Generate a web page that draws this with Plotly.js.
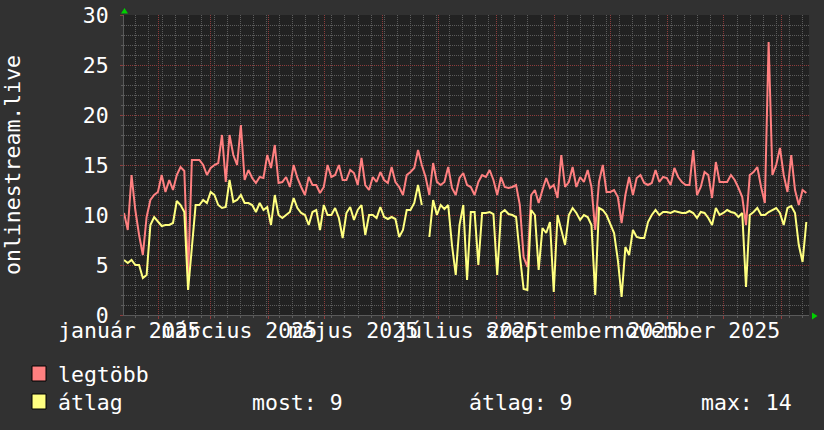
<!DOCTYPE html>
<html>
<head>
<meta charset="utf-8">
<script src="https://cdn.plot.ly/plotly-3.0.1.min.js"></script>
<style>
html,body{margin:0;padding:0;background:#313131;}
#chart{width:824px;height:430px;}
</style>
</head>
<body>
<div id="chart"></div>
<script>
// ---- data ----
const seriesNames = ['legtöbb', 'átlag'];
const seriesColors = ['#ff8080', '#ffff80'];

// "legtöbb" (maximum) series, one reading every ~2 days
const maxValues = [
 10.2, 8.5, 14.0, 10.5, 8.0, 6.0, 9.8, 11.5, 12.0, 12.3,
 14.0, 12.3, 13.5, 12.5, 14.0, 14.8, 14.4, 3.8, 15.5, 15.5,
 15.5, 15.0, 14.0, 14.7, 15.0, 15.2, 18.0, 13.3, 18.0, 16.0,
 15.0, 19.0, 13.5, 14.5, 13.7, 13.2, 13.8, 13.7, 16.0, 14.7,
 17.0, 13.2, 13.3, 13.8, 12.8, 15.0, 13.7, 12.8, 12.0, 13.8,
 13.0, 13.0, 12.2, 12.8, 15.0, 13.8, 14.0, 15.0, 13.5, 13.5,
 14.5, 14.2, 13.0, 15.7, 13.0, 12.5, 13.8, 13.3, 14.3, 13.5,
 13.2, 14.8, 13.3, 12.8, 12.0, 14.0, 14.3, 14.7, 16.5, 15.0,
 13.8, 12.0, 15.2, 13.3, 13.0, 13.3, 14.8, 12.7, 12.0, 13.7,
 14.2, 13.0, 12.8, 12.0, 13.3, 14.0, 13.8, 14.5, 13.5, 12.0,
 13.8, 12.8, 12.7, 12.8, 13.0, 11.0, 5.8, 4.8, 12.0, 12.5,
 11.2, 12.5, 13.7, 12.7, 13.0, 11.7, 16.0, 12.8, 13.3, 14.8,
 12.8, 13.8, 13.3, 14.5, 12.8, 8.5, 13.3, 15.0, 12.3, 12.3,
 12.5, 11.8, 9.2, 12.0, 13.8, 12.0, 13.7, 14.0, 13.2, 13.0,
 13.2, 14.5, 13.3, 13.8, 13.7, 13.0, 14.7, 13.8, 13.3, 13.0,
 13.0, 16.5, 12.0, 12.8, 14.3, 14.0, 11.7, 15.3, 13.3, 13.3,
 13.3, 14.0, 13.5, 12.7, 11.8, 9.0, 14.0, 14.3, 14.8, 12.8,
 11.2, 27.3, 14.0, 15.0, 16.7, 14.0, 12.3, 16.0, 12.5, 11.0,
 12.5, 12.2
];

// "átlag" (average) series, same readings
const avgValues = [
 5.5, 5.2, 5.5, 5.0, 5.0, 3.7, 4.0, 9.0, 9.8, 9.3,
 8.9, 9.0, 9.0, 9.2, 11.4, 11.0, 10.3, 2.5, 7.0, 11.0,
 11.0, 11.5, 11.2, 12.3, 12.0, 11.0, 10.7, 10.8, 13.5, 11.3,
 11.5, 12.0, 11.2, 11.2, 11.0, 10.3, 11.2, 10.5, 10.8, 9.0,
 12.0, 10.0, 9.7, 10.0, 10.3, 11.7, 10.7, 10.2, 10.0, 9.0,
 10.3, 10.5, 8.5, 11.0, 10.0, 10.0, 10.7, 9.7, 7.7, 10.2,
 10.8, 9.5, 10.5, 11.0, 8.0, 10.0, 10.0, 9.7, 10.8, 9.8,
 9.6, 9.8, 9.6, 7.8, 8.5, 10.5, 10.5, 11.2, 13.0, 11.0,
 null, 7.8, 11.5, 10.0, 11.0, 10.6, 11.0, 7.0, 4.0, 9.0,
 11.0, 3.5, 10.3, 10.3, 5.0, 10.2, 10.2, 10.3, 10.1, 4.0,
 10.2, 10.5, 10.1, 10.0, 9.8, 6.0, 2.6, 2.5, 10.5, 10.0,
 4.5, 8.7, 8.2, 9.3, 2.3, 10.0, 8.5, 7.0, 10.0, 10.7,
 10.2, 9.5, 10.0, 9.8, 9.0, 2.0, 10.7, 10.5, 10.0, 9.0,
 8.2, 5.5, 1.8, 6.8, 6.0, 8.5, 7.8, 7.7, 7.7, 9.3,
 10.0, 10.5, 10.0, 10.3, 10.3, 10.2, 10.4, 10.3, 10.2, 10.2,
 10.4, 10.2, 9.7, 10.3, 10.2, 9.7, 9.0, 10.7, 10.0, 10.2,
 10.5, 10.3, 10.2, 9.8, 10.2, 2.8, 10.0, 10.3, 10.7, 10.0,
 10.0, 10.3, 10.5, 10.7, 10.2, 9.0, 10.7, 10.9, 10.2, 7.0,
 5.3, 9.3
];

// sampling of the readings (first reading at the left edge of the chart)
const firstSampleUTC = Date.UTC(2025, 0, 13, 15, 20);
const sampleStepHours = 48.46;
const rangeDays = 366.9;

// x-axis labels (centred on the middle of each labelled month)
const monthLabels = ['január 2025', 'március 2025', 'május 2025', 'július 2025', 'szeptember 2025', 'november 2025'];
const monthLabelDates = ['2025-01-16 12:00', '2025-03-16 12:00', '2025-05-16 12:00', '2025-07-16 12:00', '2025-09-16 00:00', '2025-11-16 00:00'];

const yTitle = 'onlinestream.live';
const legendStats = ['most: 9', 'átlag: 9', 'max: 14'];

// ---- build ----
function fmt(ms) { return new Date(ms).toISOString().slice(0, 19).replace('T', ' '); }
const xDates = maxValues.map((_, i) => fmt(firstSampleUTC + i * sampleStepHours * 3600e3));
const rangeStart = fmt(firstSampleUTC);
const rangeEnd = fmt(firstSampleUTC + rangeDays * 864e5);

const MONO = 'DejaVu Sans Mono';
const FS = 21.5;
const W = 824, H = 430;
const M = {l: 124, r: 15, t: 15, b: 115};
const PW = W - M.l - M.r, PH = H - M.t - M.b;
// pixel -> paper helpers for decorations
const px = x => (x - M.l) / PW;
const py = y => (H - M.b - y) / PH;

const gridGray = '#5c5c5c';
const gridRed = '#8e3c3c';

const traces = [
  {x: xDates, y: maxValues, name: seriesNames[0], type: 'scatter', mode: 'lines',
   line: {color: seriesColors[0], width: 2}, connectgaps: false, hoverinfo: 'skip'},
  {x: xDates, y: avgValues, name: seriesNames[1], type: 'scatter', mode: 'lines',
   line: {color: seriesColors[1], width: 2}, connectgaps: false, hoverinfo: 'skip'},
  {x: [monthLabelDates[0]], y: [null], xaxis: 'x2', yaxis: 'y', mode: 'lines',
   showlegend: false, hoverinfo: 'skip'}
];

function sq(x0, y0, x1, y1, color) {
  return {type: 'rect', xref: 'paper', yref: 'paper', x0: px(x0), x1: px(x1), y0: py(y1), y1: py(y0),
          fillcolor: color, line: {color: '#000000', width: 1}};
}
function tri(pts) {
  const p = pts.map((q, i) => (i ? 'L' : 'M') + px(q[0]) + ',' + py(q[1])).join(' ') + ' Z';
  return {type: 'path', xref: 'paper', yref: 'paper', path: p, fillcolor: '#00d000', line: {width: 0}};
}

const shapes = [
  sq(32, 366, 46, 381, seriesColors[0]),
  sq(32, 394, 46, 409, seriesColors[1]),
  tri([[121, 13.5], [128, 13.5], [124.5, 8]]),
  tri([[812, 312.5], [812, 319.5], [817.5, 316]])
];

function txt(t, x, y, anchor, angle) {
  return {text: t, xref: 'paper', yref: 'paper', x: px(x), y: py(y), xanchor: anchor || 'left', yanchor: 'middle',
          showarrow: false, textangle: angle || 0, borderpad: 0,
          font: {family: MONO, size: FS, color: '#ffffff'}};
}
const annotations = [
  txt(yTitle, 12, 165, 'center', -90),
  txt(seriesNames[0], 57, 374),
  txt(seriesNames[1], 57, 402),
  txt(legendStats[0], 251, 402),
  txt(legendStats[1], 468, 402),
  txt(legendStats[2], 700, 402)
];

const layout = {
  width: W, height: H, margin: M,
  paper_bgcolor: '#313131', plot_bgcolor: '#222222',
  showlegend: false,
  font: {family: MONO, size: FS, color: '#ffffff'},
  xaxis: {
    type: 'date', range: [rangeStart, rangeEnd], fixedrange: true,
    tick0: '2025-01-01', dtick: 'M1', showticklabels: false,
    showgrid: true, gridcolor: gridRed, griddash: '1px,1px', gridwidth: 1,
    ticks: 'outside', ticklen: 3, tickcolor: gridRed,
    minor: {tick0: '2025-01-20', dtick: 7 * 864e5, showgrid: true, gridcolor: gridGray, griddash: '1px,1px',
            ticks: 'outside', ticklen: 2, tickcolor: gridGray},
    showline: true, linecolor: '#5a5a5a', zeroline: false
  },
  xaxis2: {
    type: 'date', overlaying: 'x', anchor: 'y', side: 'bottom', range: [rangeStart, rangeEnd], fixedrange: true,
    tickmode: 'array', tickvals: monthLabelDates, ticktext: monthLabels, tickangle: 0,
    ticks: '', showgrid: false, zeroline: false, showline: false, ticklabeloverflow: 'allow',
    tickfont: {family: MONO, size: FS, color: '#ffffff'}
  },
  yaxis: {
    range: [0, 30], tick0: 0, dtick: 5, fixedrange: true,
    showgrid: true, gridcolor: gridRed, griddash: '1px,1px', gridwidth: 1,
    ticks: 'outside', ticklen: 3, tickcolor: gridRed, ticklabelstandoff: 7,
    minor: {dtick: 1, showgrid: true, gridcolor: gridGray, griddash: '1px,1px', ticks: 'outside', ticklen: 2, tickcolor: gridGray},
    tickfont: {family: MONO, size: FS, color: '#ffffff'},
    showline: true, linecolor: '#5a5a5a', zeroline: false
  },
  shapes: shapes,
  annotations: annotations
};

Plotly.newPlot('chart', traces, layout, {displayModeBar: false, staticPlot: true});
</script>
</body>
</html>
